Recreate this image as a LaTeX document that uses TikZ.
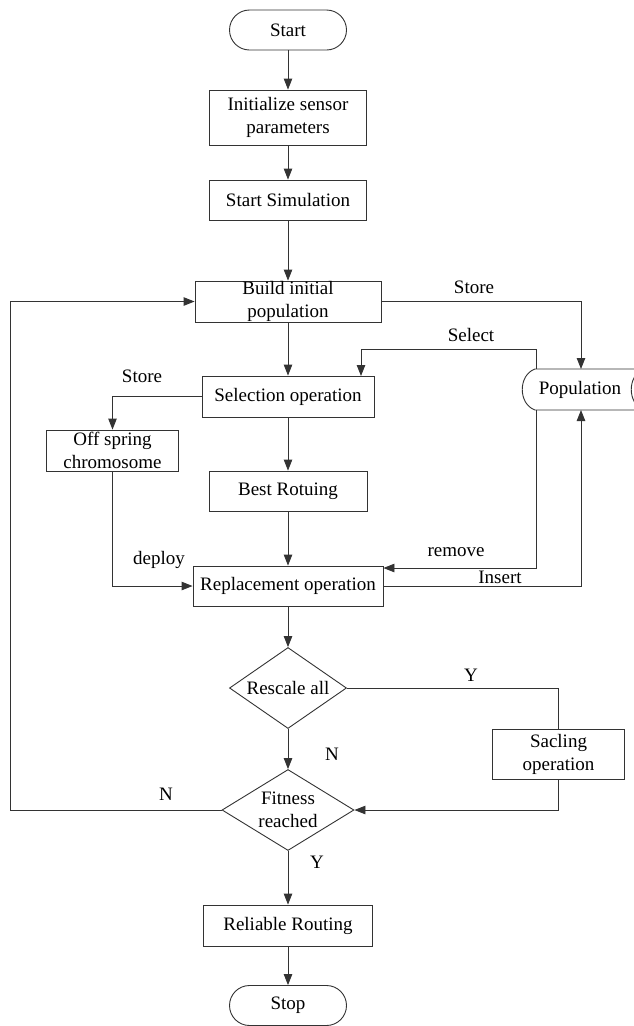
\documentclass[tikz,border=0pt]{standalone}
\usepackage{fontspec}
\setmainfont{Liberation Serif}
\usetikzlibrary{arrows.meta,shapes.geometric}
\begin{document}
\begin{tikzpicture}[x=1pt,y=-1pt,
  every node/.style={font=\fontsize{19}{23}\selectfont},
  box/.style={draw=black!80,line width=0.9pt,rectangle,inner sep=0pt,align=center},
  term/.style={draw=black!80,line width=0.9pt,rectangle,rounded corners=20pt,inner sep=0pt,minimum width=117pt,minimum height=40pt},
  dec/.style={draw=black!80,line width=0.9pt,diamond,inner sep=0pt,align=center},
  lbl/.style={inner sep=0pt},
  conn/.style={draw=black!80,line width=0.9pt},
  arr/.style={conn,-{Triangle[length=11pt,width=8.5pt]}}]
\useasboundingbox (0,0) rectangle (634,1026);
\node[term] (start) at (288,30) {Start};
\node[box,minimum width=157pt,minimum height=55pt] (init) at (288,117.5) {Initialize sensor\\parameters};
\node[box,minimum width=157pt,minimum height=40pt] (sim) at (288,200) {Start Simulation};
\node[box,minimum width=186pt,minimum height=41pt] (build) at (288,301.5) {Build initial\\population};
\node[box,minimum width=172pt,minimum height=41pt] (sel) at (288,396.5) {Selection operation};
\node[box,minimum width=132pt,minimum height=41pt] (off) at (112.5,450.5) {Off spring\\chromosome};
\node[box,minimum width=158pt,minimum height=40pt] (best) at (288,491) {Best Rotuing};
\node[box,minimum width=190pt,minimum height=40pt] (rep) at (288,586) {Replacement operation};
\node[dec,minimum width=117pt,minimum height=81pt,aspect=1.44] (rescale) at (288,688) {Rescale all};
\node[dec,minimum width=132pt,minimum height=81pt,aspect=1.63] (fit) at (288,810) {Fitness\\reached};
\node[box,minimum width=132pt,minimum height=50pt] (scal) at (558.5,754) {Sacling\\operation};
\node[box,minimum width=169pt,minimum height=41pt] (rel) at (288,925.5) {Reliable Routing};
\node[term] (stop) at (288,1005.5) {Stop};
% Population (stored data)
\draw[conn] (535,369) -- (644,369) .. controls (627,375) and (627,404) .. (644,410)
  -- (535,410) .. controls (518,404) and (518,375) .. (535,369);
\node[lbl] (pop) at (580,389.5) {Population};
\coordinate (popTin) at (581,369);
\coordinate (popBin) at (581,410);
\coordinate (popTout) at (536.5,369);
\coordinate (popBout) at (536.5,410);
\coordinate (selin) at (361,376);
\coordinate (left) at (10,810);
% main flow
\draw[arr] (start) -- (init);
\draw[arr] (init) -- (sim);
\draw[arr] (sim) -- (build);
\draw[arr] (build) -- (sel);
\draw[arr] (sel) -- (best);
\draw[arr] (best) -- (rep);
\draw[arr] (rep) -- (rescale);
\draw[arr] (rescale) -- (fit);
\draw[arr] (fit) -- (rel);
\draw[arr] (rel) -- (stop);
% side connectors
\draw[arr] (build.east) -| (popTin);
\draw[arr] (popTout) -- ++(0,-20) -| (selin);
\draw[arr] (sel.west) -| (off.north);
\draw[arr] (off.south) |- (rep.west);
\draw[arr] (popBout) |- ([yshift=18pt]rep.east);
\draw[arr] (rep.east) -| (popBin);
\draw[conn] (rescale.east) -| (scal.north);
\draw[arr] (scal.south) |- (fit.east);
\draw[arr] (fit.west) -- (left) |- (build.west);
% labels
\node[lbl] (lstore1) at (474,287) {Store};
\node[lbl] (lselect) at (471,335) {Select};
\node[lbl] (lstore2) at (142,376) {Store};
\node[lbl] (ldeploy) at (159,560) {deploy};
\node[lbl] (lremove) at (456,552) {remove};
\node[lbl] (linsert) at (500,577) {Insert};
\node[lbl] (ly1) at (471,675) {Y};
\node[lbl] (ln1) at (332,754) {N};
\node[lbl] (ln2) at (166,794) {N};
\node[lbl] (ly2) at (317,862) {Y};
\end{tikzpicture}
\end{document}
